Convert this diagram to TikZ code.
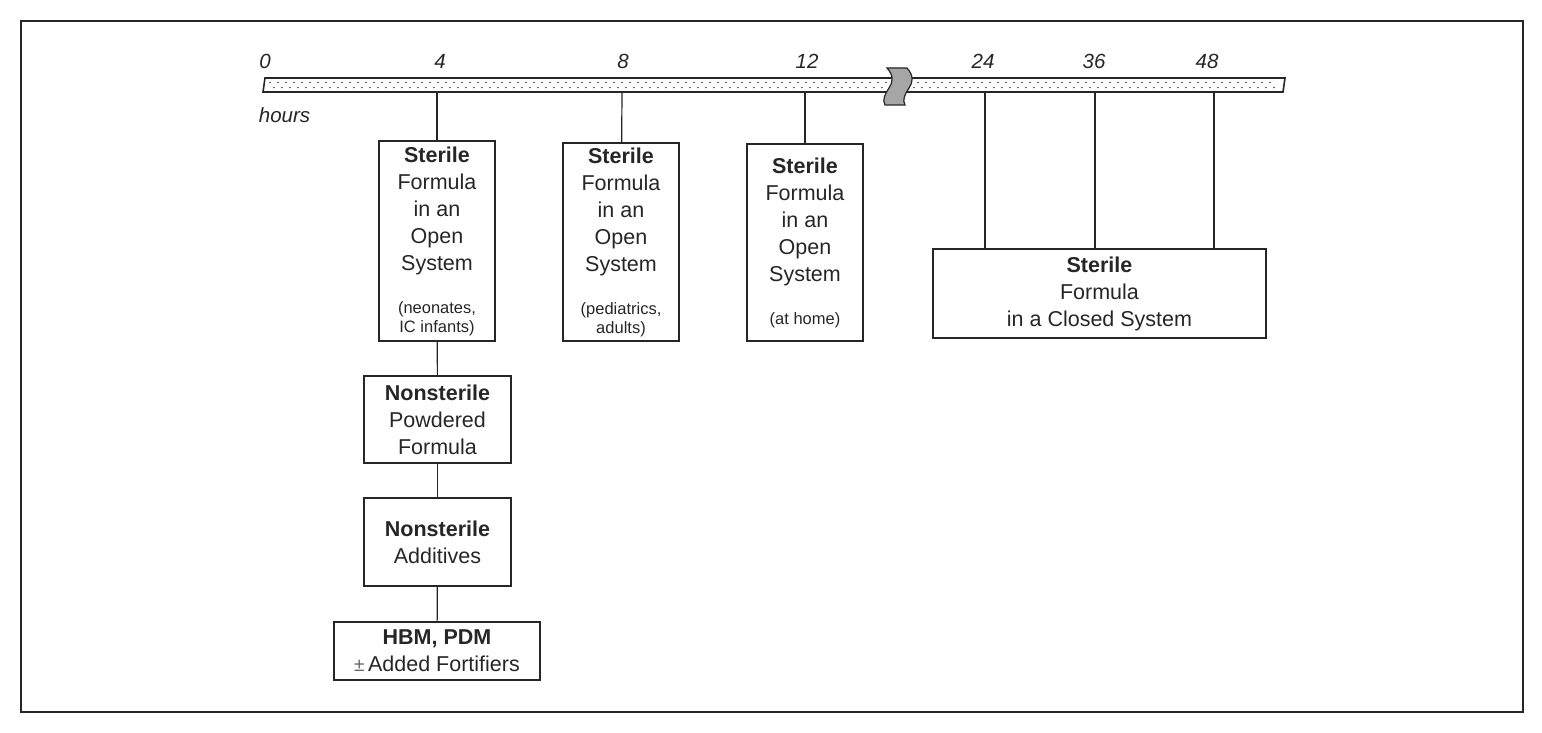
\documentclass[tikz,border=0pt]{standalone}
\usepackage{fontspec}
\setmainfont{Liberation Sans}
\usetikzlibrary{calc}
\newcommand\smtxt{\fontsize{16.5}{19}\selectfont}

\begin{document}
\begin{tikzpicture}[x=1pt,y=-1pt,line width=1.2pt,color=black!85,
  stage/.style={draw,line width=1.3pt,align=center,inner sep=0pt,font=\fontsize{21.5}{27}\selectfont},
  hourlabel/.style={font=\fontsize{20.5}{24}\selectfont\itshape}]
			%%%%% START %%%%%
			\useasboundingbox (0,0) rectangle (1542,733);
			\draw[line width=1.5pt] (21,21) rectangle (1523,712);
			
			% time bar
			\draw[fill=white,line width=1.6pt] (265,78) -- (1285,78) -- (1283,92) -- (263,92) -- cycle;
			\foreach \x in {270,278,...,1274} {
				\fill[black!70] (\x,82.5) circle (0.9);
				\fill[black!70] (\x+4,87.5) circle (0.9);
			}
			\draw[fill=black!35,line width=1.2pt] (887,68) .. controls (894,76) and (893,82) .. (889,88) .. controls (885,94) and (882,100) .. (885,105) -- (905,105) .. controls (902,100) and (905,94) .. (909,88) .. controls (913,82) and (914,76) .. (907,68) -- cycle;
			
			\node[hourlabel] (h0) at (265,61) {0};
			\node[hourlabel] (h4) at (440,61) {4};
			\node[hourlabel] (h8) at (623,61) {8};
			\node[hourlabel] (h12) at (807,61) {12};
			\node[hourlabel] (h24) at (983,61) {24};
			\node[hourlabel] (h36) at (1094,61) {36};
			\node[hourlabel] (h48) at (1207,61) {48};
			\node[hourlabel,anchor=west] (hours) at (255,115) {hours};
			
			\coordinate (t4) at (437,92);
			\coordinate (t8) at (622,92);
			\coordinate (t12) at (805,92);
			\coordinate (t24) at (985,92);
			\coordinate (t36) at (1095,92);
			\coordinate (t48) at (1214,92);
			
			% boxes
			\node[stage,minimum width=116,minimum height=200] (b4) at (437,241)
				{\textbf{Sterile}\\Formula\\in an\\Open\\System\\[16pt]\smtxt (neonates,\\[-8pt]\smtxt IC infants)};
			\node[stage,minimum width=116,minimum height=198] (b8) at (621,242)
				{\textbf{Sterile}\\Formula\\in an\\Open\\System\\[16pt]\smtxt (pediatrics,\\[-8pt]\smtxt adults)};
			\node[stage,minimum width=116,minimum height=197] (b12) at (805,242.5)
				{\textbf{Sterile}\\Formula\\in an\\Open\\System\\[16pt]\smtxt (at home)};
			\node[stage,minimum width=333,minimum height=89] (closed) at (1099.5,293.5)
				{\textbf{Sterile}\\Formula\\in a Closed System};
			
			\node[stage,minimum width=147,minimum height=87] (powder) at (437.5,419.5)
				{\textbf{Nonsterile}\\Powdered\\Formula};
			\node[stage,minimum width=147,minimum height=88] (addit) at (437.5,542)
				{\textbf{Nonsterile}\\Additives};
			\node[stage,minimum width=206,minimum height=58] (milk) at (437,651)
				{\textbf{HBM, PDM}\\{\fontsize{19}{19}\selectfont\color{black!60}±}\,Added Fortifiers};
			
			% links
			\draw (t4) -- (b4);
			\draw (t8) -- (b8);
			\draw (t12) -- (b12);
			\draw (t24) -- (t24 |- closed.north);
			\draw (t36) -- (t36 |- closed.north);
			\draw (t48) -- (t48 |- closed.north);
			\draw (b4) -- (powder);
			\draw (powder) -- (addit);
			\draw (addit) -- (milk);
			%%%%% END %%%%%
\end{tikzpicture}
\end{document}
